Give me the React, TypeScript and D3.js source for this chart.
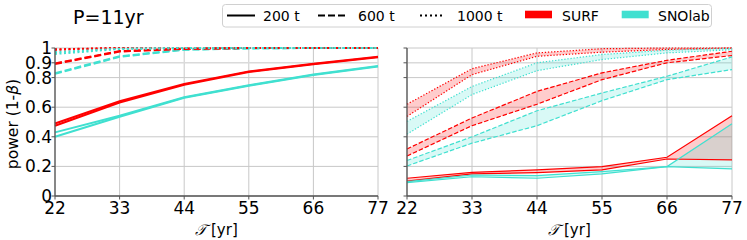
import React from "react";
import * as d3 from "d3";

// exposure time ticks (yr)
const years = [22, 33, 44, 55, 66, 77];
const yTicks = [0, 0.2, 0.4, 0.6, 0.8, 0.9, 1];

// left panel: lower / upper edge of each band
const leftSurf200Lo = [0.475, 0.632, 0.752, 0.838, 0.89, 0.938];
const leftSurf200Hi = [0.49, 0.64, 0.757, 0.842, 0.893, 0.941];
const leftSno200Lo = [0.4, 0.535, 0.664, 0.745, 0.818, 0.875];
const leftSno200Hi = [0.43, 0.542, 0.667, 0.748, 0.821, 0.878];
const leftSurf600Lo = [0.892, 0.976, 0.994, 1, 1, 1];
const leftSurf600Hi = [0.896, 0.979, 0.996, 1, 1, 1];
const leftSno600Lo = [0.825, 0.94, 0.988, 0.997, 1, 1];
const leftSno600Hi = [0.83, 0.944, 0.99, 0.998, 1, 1];
const leftSurf1000Lo = [0.988, 1, 1, 1, 1, 1];
const leftSurf1000Hi = [0.991, 1, 1, 1, 1, 1];
const leftSno1000Lo = [0.96, 0.993, 1, 1, 1, 1];
const leftSno1000Hi = [0.972, 0.995, 1, 1, 1, 1];

// right panel
const rightSurf200Lo = [0.1, 0.149, 0.158, 0.176, 0.25, 0.244];
const rightSurf200Hi = [0.12, 0.16, 0.176, 0.199, 0.262, 0.542];
const rightSno200Lo = [0.09, 0.13, 0.12, 0.149, 0.199, 0.183];
const rightSno200Hi = [0.097, 0.142, 0.138, 0.165, 0.199, 0.488];
const rightSurf600Lo = [0.27, 0.475, 0.62, 0.786, 0.9, 0.949];
const rightSurf600Hi = [0.318, 0.527, 0.707, 0.832, 0.917, 0.978];
const rightSno600Lo = [0.203, 0.357, 0.475, 0.644, 0.786, 0.854];
const rightSno600Hi = [0.24, 0.4, 0.576, 0.696, 0.809, 0.94];
const rightSurf1000Lo = [0.538, 0.82, 0.944, 0.972, 0.99, 1];
const rightSurf1000Hi = [0.62, 0.86, 0.967, 0.995, 1, 1];
const rightSno1000Lo = [0.418, 0.685, 0.847, 0.922, 0.967, 0.988];
const rightSno1000Hi = [0.504, 0.74, 0.9, 0.956, 0.985, 0.997];

const SURF = "#ff0000";
const SNO = "#40e0d0";
const FONT = "DejaVu Sans, sans-serif";

type Band = { color: string; style: "solid" | "dashed" | "dotted"; lo: number[]; hi: number[] };

const leftBands: Band[] = [
  { color: SNO, style: "solid", lo: leftSno200Lo, hi: leftSno200Hi },
  { color: SURF, style: "solid", lo: leftSurf200Lo, hi: leftSurf200Hi },
  { color: SNO, style: "dashed", lo: leftSno600Lo, hi: leftSno600Hi },
  { color: SURF, style: "dashed", lo: leftSurf600Lo, hi: leftSurf600Hi },
  { color: SURF, style: "dotted", lo: leftSurf1000Lo, hi: leftSurf1000Hi },
  { color: SNO, style: "dotted", lo: leftSno1000Lo, hi: leftSno1000Hi },
];

const rightBands: Band[] = [
  { color: SURF, style: "solid", lo: rightSurf200Lo, hi: rightSurf200Hi },
  { color: SNO, style: "solid", lo: rightSno200Lo, hi: rightSno200Hi },
  { color: SURF, style: "dashed", lo: rightSurf600Lo, hi: rightSurf600Hi },
  { color: SNO, style: "dashed", lo: rightSno600Lo, hi: rightSno600Hi },
  { color: SURF, style: "dotted", lo: rightSurf1000Lo, hi: rightSurf1000Hi },
  { color: SNO, style: "dotted", lo: rightSno1000Lo, hi: rightSno1000Hi },
];

const top = 48;
const bottom = 196;

const y = d3.scaleLinear().domain([0, 1]).range([bottom, top]);

function Panel({ left, right, bands, fill, lw, labels }: { left: number; right: number; bands: Band[]; fill: boolean; lw: number; labels: boolean }) {
  const x = d3.scaleLinear().domain([22, 77]).range([left, right]);
  const line = (vals: number[]) =>
    d3.line<number>().x((_, i) => x(years[i])).y((v) => y(v))(vals) || "";
  const area = (b: Band) =>
    d3.area<number>().x((_, i) => x(years[i])).y0((_, i) => y(b.lo[i])).y1((_, i) => y(b.hi[i]))(b.lo) || "";
  const dash = (s: string) =>
    s === "dashed" ? (lw > 1.5 ? "7,3" : "4.5,2") : s === "dotted" ? (lw > 1.5 ? "2,2.5" : "1.3,1.8") : undefined;

  return (
    <g>
      {years.map((t) => (
        <line key={"gx" + t} x1={x(t)} x2={x(t)} y1={top} y2={bottom} stroke="#c8c8c8" strokeWidth={1} />
      ))}
      {yTicks.map((v) => (
        <line key={"gy" + v} x1={left} x2={right} y1={y(v)} y2={y(v)} stroke={v === 0.9 ? "#dadada" : "#c8c8c8"} strokeWidth={v === 0.9 ? 1.6 : 1} />
      ))}
      {fill && bands.map((b, i) => (
        <path key={"a" + i} d={area(b)} fill={b.color} fillOpacity={0.2} stroke="none" />
      ))}
      {bands.map((b, i) => (
        <g key={"l" + i}>
          <path d={line(b.lo)} fill="none" stroke={b.color} strokeWidth={lw} strokeDasharray={dash(b.style)} />
          <path d={line(b.hi)} fill="none" stroke={b.color} strokeWidth={lw} strokeDasharray={dash(b.style)} />
        </g>
      ))}
      <line x1={left} x2={left} y1={top} y2={bottom} stroke="#555" strokeWidth={1.3} />
      <line x1={left} x2={right} y1={bottom} y2={bottom} stroke="#555" strokeWidth={1.3} />
      {years.map((t) => (
        <g key={"tx" + t}>
          <line x1={x(t)} x2={x(t)} y1={bottom} y2={bottom + 3.5} stroke="#555" strokeWidth={1} />
          <text x={x(t)} y={214} textAnchor="middle" fontSize={17} fontFamily={FONT} fill="#000">{t}</text>
        </g>
      ))}
      {yTicks.map((v) => (
        <g key={"ty" + v}>
          <line x1={left - 3.5} x2={left} y1={y(v)} y2={y(v)} stroke="#555" strokeWidth={1} />
          {labels && (
            <text x={left - 3} y={y(v) + 6} textAnchor="end" fontSize={17} fontFamily={FONT} fill="#000">
              {v === 0 ? "0" : v === 1 ? "1" : String(v)}
            </text>
          )}
        </g>
      ))}
      <text x={(left + right) / 2} y={235} textAnchor="middle" fontSize={15} fontFamily={FONT} fill="#000">
        <tspan fontStyle="italic" fontFamily="DejaVu Serif, serif">𝒯</tspan> [yr]
      </text>
    </g>
  );
}

export default function App() {
  return (
    <div style={{ position: "absolute", left: 0, top: 0 }}>
      <svg width={747} height={240} style={{ display: "block", background: "#fff" }}>
        <text x={73} y={24} fontSize={19} fontFamily={FONT} fill="#000">P=11yr</text>
        <text transform="translate(18,124) rotate(-90)" textAnchor="middle" fontSize={15.5} fontFamily={FONT} fill="#000">
          power (1-<tspan fontStyle="italic">β</tspan>)
        </text>
        <Panel left={55} right={378} bands={leftBands} fill={false} lw={2} labels={true} />
        <Panel left={407} right={732} bands={rightBands} fill={true} lw={1.2} labels={false} />
        {/* legend */}
        <g fontFamily={FONT} fontSize={14}>
          <rect x={222.5} y={4.5} width={489} height={22.5} rx={3} fill="#fff" stroke="#d0d0d0" />
          <line x1={227} x2={255} y1={15.5} y2={15.5} stroke="#000" strokeWidth={2} />
          <text x={263} y={20.5}>200 t</text>
          <line x1={318} x2={347} y1={15.5} y2={15.5} stroke="#000" strokeWidth={2} strokeDasharray="7,3" />
          <text x={358} y={20.5}>600 t</text>
          <line x1={420} x2={444} y1={15.5} y2={15.5} stroke="#000" strokeWidth={2} strokeDasharray="2,3" />
          <text x={457} y={20.5}>1000 t</text>
          <rect x={525} y={10.7} width={27} height={7.6} fill={SURF} />
          <text x={562} y={20.5}>SURF</text>
          <rect x={621.7} y={10.7} width={27} height={7.6} fill={SNO} />
          <text x={658} y={20.5}>SNOlab</text>
        </g>
      </svg>
    </div>
  );
}
